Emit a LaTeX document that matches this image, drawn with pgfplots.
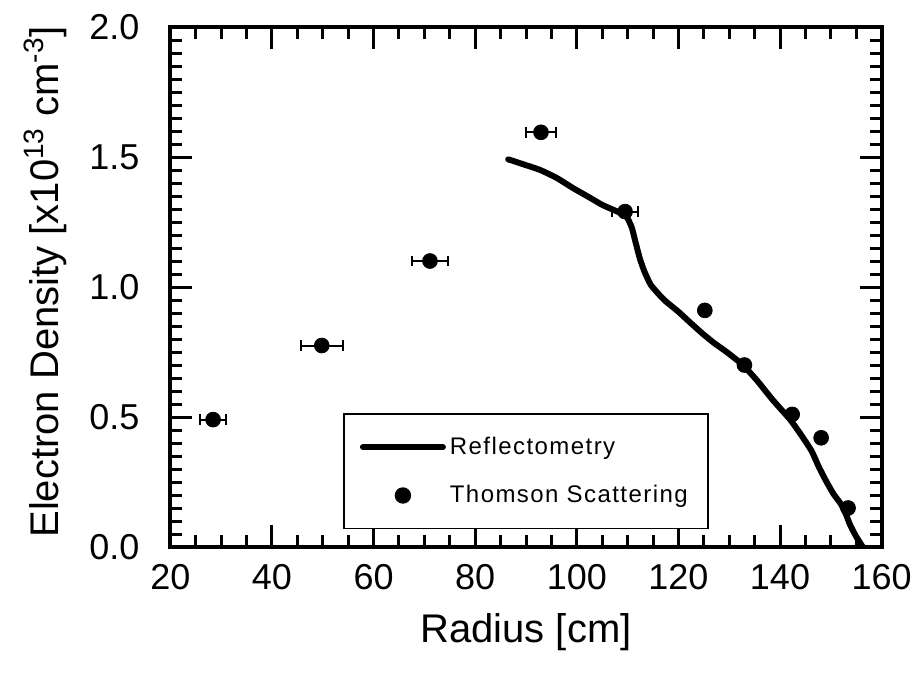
\documentclass[border=0pt]{standalone}
\usepackage{fontspec}
\setmainfont{Liberation Sans}
\newfontfamily\legfont[LetterSpace=6]{Liberation Sans}
\usepackage{pgfplots}
\pgfplotsset{compat=1.18}
\begin{document}
\begin{tikzpicture}
\path[use as bounding box] (-85.2pt,-64.5pt) rectangle (372.8pt,273.5pt);
\begin{axis}[
  scale only axis, width=355.6pt, height=260pt,
  xmin=20, xmax=160, ymin=0, ymax=2,
  xtick={20,40,...,160}, ytick={0,0.5,...,2},
  minor x tick num=3, minor y tick num=9,
  axis line style={line width=2pt},
  major tick length=11pt, minor tick length=6pt,
  every tick/.style={black, line width=1.5pt},
  tick align=inside,
  ticklabel style={font=\fontsize{18}{20}\selectfont},
  /pgf/number format/assume math mode=true,
  yticklabel style={/pgf/number format/fixed, /pgf/number format/fixed zerofill, /pgf/number format/precision=1, xshift=-12pt},
  xticklabel style={yshift=-5pt},
  xlabel={Radius [cm]},
  ylabel={Electron Density [x10\textsuperscript{13} cm\textsuperscript{-3}]},
  label style={font=\fontsize{20}{22}\selectfont},
  xlabel style={at={(axis description cs:0.5,-0.163)}, anchor=center},
  ylabel style={at={(axis description cs:-0.176,0.51)}, anchor=center},
  legend style={at={(axis cs:54,0.515)}, anchor=north west, draw=black, line width=0.8pt, font=\legfont\fontsize{12}{14}\selectfont, inner xsep=8pt, inner ysep=9.5pt, row sep=10pt},
  legend cell align=left,
  legend image code/.code={\draw[mark repeat=2,mark phase=2,#1] plot coordinates {(0pt,0pt) (20pt,0pt) (40pt,0pt)};},
]
\addplot[black, line width=3pt, line join=round, line cap=round, smooth, tension=0.3] coordinates {
(86.5,1.491) (89,1.475) (92.8,1.45) (96,1.42) (99.3,1.38) (102,1.35) (105.1,1.315)
(108,1.29) (109.8,1.27) (110.8,1.23) (111.6,1.17) (112.4,1.11) (113.3,1.06)
(114.5,1.01) (116,0.975) (117.5,0.945) (120,0.905) (122.5,0.86) (124.8,0.82)
(127,0.785) (129.5,0.75) (132.7,0.70) (135.5,0.64) (138.6,0.565) (142.0,0.49)
(144.2,0.43) (146.2,0.37) (147.6,0.31) (148.9,0.26) (150.5,0.205) (152,0.165)
(153,0.125) (153.8,0.085) (155,0.04) (156.3,0.0)
};
\addlegendentry{Reflectometry}
\addplot[forget plot, only marks, mark=*, mark size=3.7pt, black,
  error bars/.cd, x dir=both, x explicit,
  error bar style={line width=1pt},
  error mark options={rotate=90, mark size=2.6pt, line width=1pt}]
coordinates {
(28.4,0.49) +- (2.5,0)
(49.8,0.775) +- (4.1,0)
(71.1,1.10) +- (3.5,0)
(92.95,1.595) +- (3.0,0)
(109.5,1.29) +- (2.5,0)
};
\addplot[only marks, mark=*, mark size=3.7pt, black] coordinates {
(125.2,0.91) (133.0,0.70) (142.4,0.51) (148.1,0.42) (153.4,0.15)
};
\addlegendentry{Thomson Scattering}
\end{axis}
\end{tikzpicture}
\end{document}
